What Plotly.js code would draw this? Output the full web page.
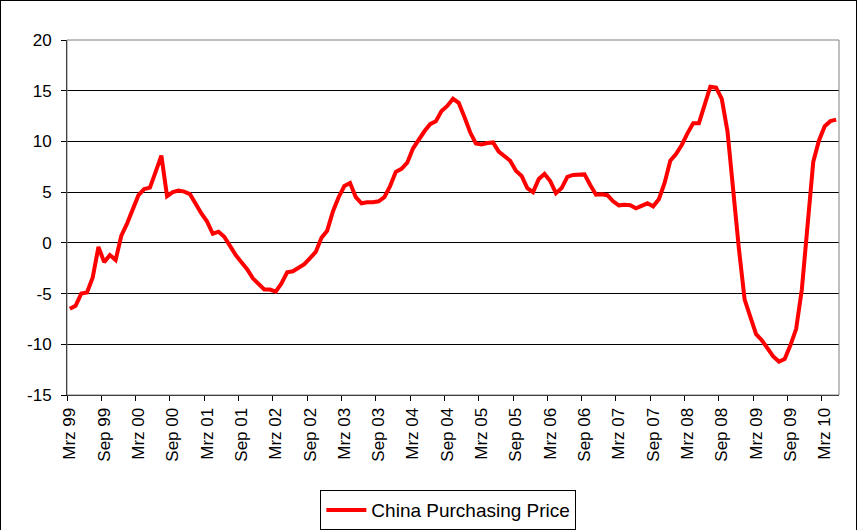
<!DOCTYPE html>
<html>
<head>
<meta charset="utf-8">
<script src="https://cdn.plot.ly/plotly-3.0.1.min.js"></script>
<style>
  html, body { margin: 0; padding: 0; background: #fff; }
  #wrap { position: relative; width: 858px; height: 530px; }
  #chart { position: absolute; left: 0; top: 0; width: 858px; height: 530px; }
  #frame { position: absolute; left: 0; top: 0; width: 857px; height: 531px; box-sizing: border-box;
           border: 1px solid #000; pointer-events: none; }
</style>
</head>
<body>
<div id="wrap">
  <div id="chart"></div>
  <div id="frame"></div>
</div>
<script>
// Monthly series, Mar 1999 .. May 2010
const seriesName = "China Purchasing Price";
const values = [
  -6.5, -6.2, -5.0, -4.9, -3.4, -0.4, -1.9, -1.2, -1.7, 0.7, 1.9, 3.4,
  4.7, 5.3, 5.45, 7.0, 8.6, 4.6, 5.0, 5.15, 5.05, 4.8, 3.8, 2.9,
  2.1, 0.9, 1.1, 0.6, -0.3, -1.2, -1.9, -2.6, -3.5, -4.1, -4.6, -4.6,
  -4.8, -4.0, -2.9, -2.8, -2.5, -2.1, -1.5, -0.9, 0.5, 1.2, 3.1, 4.5,
  5.6, 5.9, 4.5, 3.9, 4.0, 4.0, 4.1, 4.5, 5.6, 7.0, 7.3, 7.9,
  9.3, 10.2, 11.0, 11.7, 12.0, 13.0, 13.5, 14.2, 13.8, 12.4, 10.9, 9.8,
  9.7, 9.85, 9.9, 9.0, 8.5, 8.1, 7.1, 6.6, 5.4, 5.0, 6.3, 6.8,
  6.1, 4.9, 5.4, 6.5, 6.7, 6.7, 6.75, 5.7, 4.75, 4.8, 4.7, 4.1,
  3.7, 3.75, 3.7, 3.4, 3.6, 3.9, 3.6, 4.3, 5.9, 8.1, 8.75, 9.65,
  10.8, 11.8, 11.8, 13.5, 15.4, 15.3, 14.2, 11.0, 5.0, -0.6, -5.6, -7.3,
  -9.0, -9.6, -10.4, -11.2, -11.7, -11.45, -10.1, -8.5, -4.6, 2.1, 8.0, 10.1,
  11.5, 12.0, 12.15
];
const tickLabels = [
  "Mrz 99", "Sep 99", "Mrz 00", "Sep 00", "Mrz 01", "Sep 01", "Mrz 02", "Sep 02",
  "Mrz 03", "Sep 03", "Mrz 04", "Sep 04", "Mrz 05", "Sep 05", "Mrz 06", "Sep 06",
  "Mrz 07", "Sep 07", "Mrz 08", "Sep 08", "Mrz 09", "Sep 09", "Mrz 10"
];
const yTickVals = [-15, -10, -5, 0, 5, 10, 15, 20];
const yTickText = ["-15", "-10", "-5", "0", "5", "10", "15", "20"];
const labelStep = 6; // one label every 6 months

const xIdx = values.map((v, i) => i);
const tickVals = tickLabels.map((t, k) => k * labelStep);
const boundaryTicks = tickLabels.map((t, k) => k * labelStep - 0.5);

const font = "Liberation Sans, Arial, sans-serif";

const trace = {
  type: "scatter",
  mode: "lines",
  x: xIdx,
  y: values,
  name: seriesName,
  line: { color: "#ff0000", width: 4 },
  showlegend: true
};

const layout = {
  width: 858,
  height: 530,
  margin: { l: 67, r: 19, t: 40, b: 135, autoexpand: false },
  paper_bgcolor: "#ffffff",
  plot_bgcolor: "#ffffff",
  font: { family: font, size: 16, color: "#000" },
  showlegend: true,
  xaxis: {
    range: [-0.5, values.length - 0.5],
    tickmode: "array",
    tickvals: tickVals,
    ticktext: tickLabels,
    tickangle: -90,
    ticks: "outside",
    ticklen: 5,
    tickcolor: "rgba(0,0,0,0)",
    showgrid: false,
    zeroline: false,
    showline: true,
    linecolor: "#000",
    linewidth: 1,
    automargin: false,
    tickfont: { family: font, size: 17, color: "#000" },
    minor: {
      tickmode: "array",
      tickvals: boundaryTicks,
      ticks: "outside",
      ticklen: 5,
      tickcolor: "#000",
      showgrid: false
    },
    fixedrange: true
  },
  yaxis: {
    range: [-15, 20],
    tickmode: "array",
    tickvals: yTickVals,
    ticktext: yTickText,
    ticks: "outside",
    ticklen: 5,
    tickcolor: "#000",
    showgrid: true,
    gridcolor: "#000",
    gridwidth: 1,
    zeroline: true,
    zerolinecolor: "#000",
    zerolinewidth: 1,
    showline: true,
    linecolor: "#000",
    linewidth: 1,
    automargin: false,
    ticklabelstandoff: 6,
    tickfont: { family: font, size: 17, color: "#000" },
    fixedrange: true
  },
  shapes: [
    { type: "rect", xref: "paper", yref: "paper", x0: 0, x1: 1, y0: 0, y1: 1,
      line: { color: "#808080", width: 1 }, layer: "above" }
  ],
  legend: {
    orientation: "h",
    x: 0.494,
    xanchor: "center",
    y: -0.268,
    yanchor: "top",
    bordercolor: "#000",
    borderwidth: 1,
    bgcolor: "#fff",
    font: { family: font, size: 19, color: "#000" },
    itemwidth: 40
  }
};

Plotly.newPlot("chart", [trace], layout, { displayModeBar: false, staticPlot: true });
</script>
</body>
</html>
